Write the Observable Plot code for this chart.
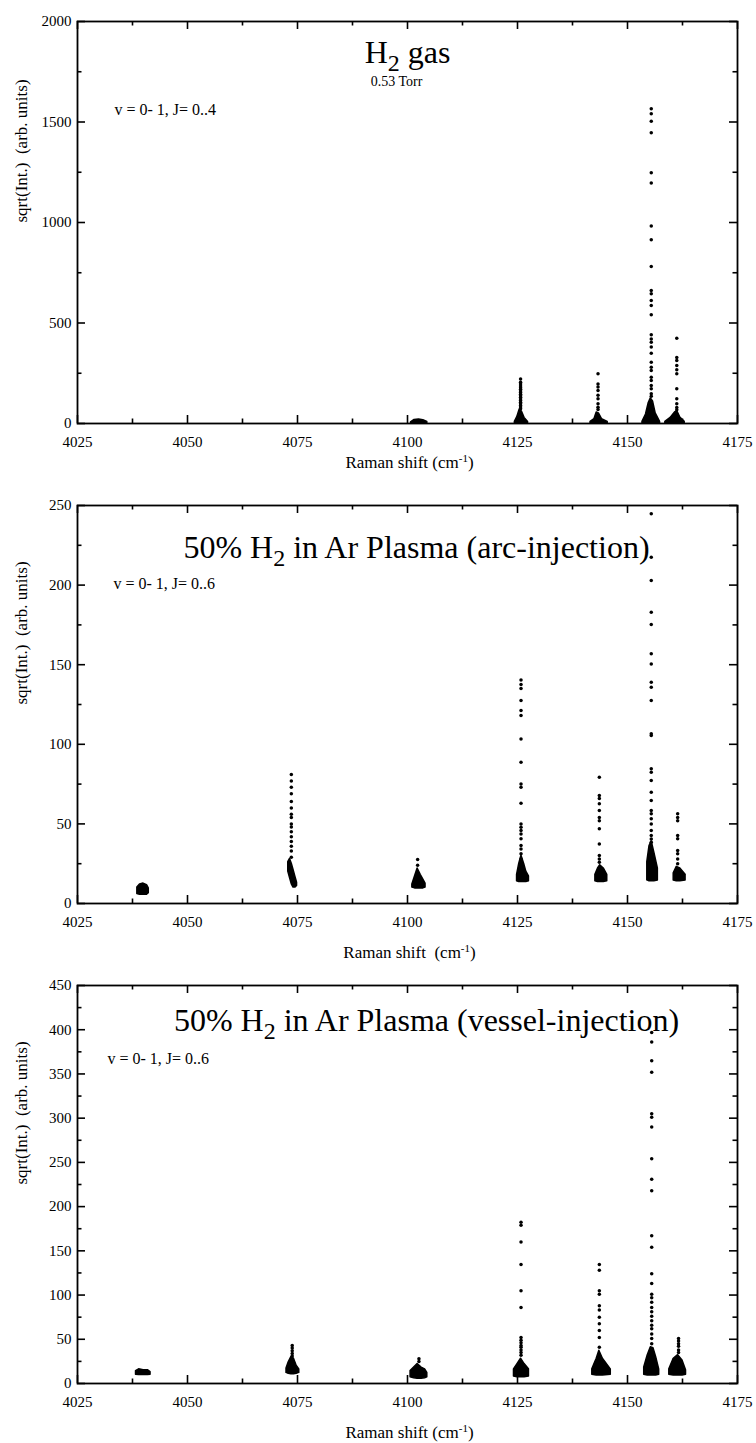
<!DOCTYPE html>
<html><head><meta charset="utf-8">
<script src="https://cdn.jsdelivr.net/npm/d3@7"></script>
<script src="https://cdn.jsdelivr.net/npm/@observablehq/plot@0.6"></script>
<style>
body{margin:0;background:#fff;}
#chart{width:756px;}
#chart svg{display:block;}
#chart text{white-space:pre;}
</style></head><body><div id="chart"></div>
<script>
// ---------- shared axis values ----------
const xDomain = [4025, 4175];
const xMajor = [4025, 4050, 4075, 4100, 4125, 4150, 4175];
const xMinor = [4037.5, 4062.5, 4087.5, 4112.5, 4137.5, 4162.5];
const yAxisTitle = "sqrt(Int.)\u00a0 (arb. units)";

// ---------- Panel 1: H2 gas ----------
const p1Title = "H2 gas";
const p1Pressure = "0.53 Torr";
const p1Note = "v = 0- 1, J= 0..4";
const p1XLabel = "Raman shift (cm-1)";
const p1YMajor = [0, 500, 1000, 1500, 2000];
const p1YMinor = [250, 750, 1250, 1750];
const p1SpikeX = [4125.7, 4143.3, 4155.4, 4161.2];
const p1SpikeY = [
  [222, 205, 196, 187, 178, 170, 162, 154, 146, 138, 130, 122, 114, 106, 98, 90, 82, 74],
  [247, 197, 181, 164, 140, 123, 98, 81, 70],
  [1566, 1541, 1504, 1446, 1247, 1196, 982, 914, 781, 662, 645, 612, 587, 541, 441, 421, 404, 380, 350, 305, 280, 264, 230, 214, 189, 173, 148, 135],
  [424, 328, 313, 289, 267, 247, 173, 123, 98, 80, 68]
];
const p1BlobX = [
  [4100.8, 4101.6, 4102.6, 4103.6, 4104.5],
  [4124.4, 4125.0, 4125.5, 4126.0, 4126.6, 4127.4],
  [4141.6, 4142.5, 4143.0, 4143.5, 4144.2, 4145.5],
  [4153.4, 4154.2, 4154.8, 4155.3, 4155.8, 4156.4, 4157.4],
  [4158.6, 4159.8, 4160.8, 4161.3, 4162.0, 4163.0]
];
const p1BlobLo = [
  [0, 0, 0, 0, 0],
  [0, 0, 0, 0, 0, 0],
  [0, 0, 0, 0, 0, 0],
  [0, 0, 0, 0, 0, 0, 0],
  [0, 0, 0, 0, 0, 0]
];
const p1BlobHi = [
  [6, 18, 20, 16, 8],
  [8, 35, 70, 60, 28, 8],
  [8, 22, 55, 50, 22, 8],
  [8, 45, 100, 125, 110, 50, 8],
  [8, 28, 55, 62, 30, 8]
];

// ---------- Panel 2: arc-injection ----------
const p2Title = "50% H2 in Ar Plasma (arc-injection)";
const p2Note = "v = 0- 1, J= 0..6";
const p2XLabel = "Raman shift\u00a0 (cm-1)";
const p2YMajor = [0, 50, 100, 150, 200, 250];
const p2YMinor = [25, 75, 125, 175, 225];
const p2SpikeX = [4073.6, 4102.3, 4125.8, 4143.6, 4155.4, 4161.4];
const p2SpikeY = [
  [81, 77, 73, 69, 64, 60, 56, 54, 50, 48, 45, 42, 39, 36, 33, 29],
  [27.6, 24],
  [140.4, 137.6, 135, 127.5, 121.2, 118.1, 103.4, 88.7, 75.1, 73, 62.9, 50, 47.9, 45.8, 43.7, 40.6, 36.4, 34.3, 31.2, 28],
  [79.3, 67.8, 66, 62.6, 58.4, 54, 52, 46.9, 37.4, 30.2, 28, 25.9],
  [244.8, 217.5, 202.9, 183, 175.3, 156.8, 150.5, 139, 135.8, 127.5, 106.6, 105.5, 84.6, 82.5, 77.3, 69.9, 64.7, 58.4, 56.3, 53.2, 50, 45.8, 42.7, 40.5, 38.5],
  [56.3, 54, 52, 42.7, 40.6, 33.3, 31.2, 28, 25]
];
const p2BlobX = [
  [4038.6, 4039.2, 4040.0, 4040.8, 4041.2],
  [4072.9, 4073.3, 4073.7, 4074.1, 4074.5, 4074.9],
  [4101.1, 4101.7, 4102.3, 4103.0, 4103.6, 4104.1],
  [4124.9, 4125.4, 4125.9, 4126.5, 4127.0, 4127.6],
  [4142.7, 4143.3, 4143.8, 4144.6, 4145.4],
  [4154.5, 4155.0, 4155.5, 4156.1, 4156.9],
  [4160.5, 4161.2, 4162.0, 4163.2]
];
const p2BlobLo = [
  [6, 5.5, 5.5, 5.5, 6.5],
  [20, 16, 12, 10, 10, 11],
  [10, 9.5, 9.5, 9.5, 9.5, 10],
  [14, 13.5, 13.5, 13.5, 13.5, 14],
  [14, 13.5, 13.5, 13.5, 14],
  [14.5, 14, 14, 14, 14.5],
  [14.5, 14, 14, 14.5]
];
const p2BlobHi = [
  [10, 12, 12.5, 11.5, 9.5],
  [26, 28, 25, 21, 17, 13],
  [12, 17, 22, 18, 15, 12.5],
  [18, 25, 30, 25, 20, 17],
  [18, 22, 24, 22, 18],
  [26, 36, 39, 32, 22],
  [19, 23, 22, 18]
];

// ---------- Panel 3: vessel-injection ----------
const p3Title = "50% H2 in Ar Plasma (vessel-injection)";
const p3Note = "v = 0- 1, J= 0..6";
const p3XLabel = "Raman shift (cm-1)";
const p3YMajor = [0, 50, 100, 150, 200, 250, 300, 350, 400, 450];
const p3YMinor = [25, 75, 125, 175, 225, 275, 325, 375, 425];
const p3SpikeX = [4073.8, 4102.6, 4125.8, 4143.6, 4155.5, 4161.6];
const p3SpikeY = [
  [43, 40, 37, 34, 31],
  [28, 25],
  [182.4, 179, 160, 134.5, 105, 86, 52, 49, 46, 43, 41, 38, 35, 32],
  [134.5, 128, 105, 101, 88, 83, 75, 67.5, 60, 52, 41],
  [397, 386, 365, 352, 305, 301, 290, 254, 231, 218, 167, 154, 124, 113, 101, 97, 92, 86, 81, 76, 71, 66, 62, 56, 51, 45],
  [51, 48, 45, 42, 38, 35]
];
const p3BlobX = [
  [4038.3, 4039.0, 4040.0, 4041.0, 4041.6],
  [4072.5, 4073.0, 4073.6, 4074.2, 4074.8, 4075.4],
  [4100.7, 4101.5, 4102.3, 4103.2, 4104.0, 4104.5],
  [4124.2, 4125.0, 4125.8, 4126.6, 4127.6],
  [4142.0, 4143.0, 4143.6, 4144.4, 4146.2],
  [4153.8, 4154.6, 4155.3, 4155.9, 4156.5, 4157.2],
  [4159.5, 4160.5, 4161.5, 4162.5, 4163.3]
];
const p3BlobLo = [
  [10, 9.5, 9.5, 9.5, 10],
  [12, 11, 10.5, 10.5, 11, 12],
  [7, 6, 5.5, 5.5, 6, 7],
  [8, 7, 7, 7, 8],
  [10, 9, 9, 9, 10],
  [10, 9, 9, 9, 9, 10],
  [10, 9, 9, 9, 10]
];
const p3BlobHi = [
  [14, 16, 15, 15, 13],
  [17, 24, 30, 28, 20, 16],
  [14, 18, 22, 18, 16, 12],
  [16, 22, 28, 22, 16],
  [16, 28, 37, 28, 16],
  [18, 32, 41, 40, 30, 16],
  [16, 28, 32, 26, 15]
];

const FONT = "'Liberation Serif', 'Times New Roman', serif";

function rich(svg, plain, parts) {
  d3.select(svg).selectAll("text")
    .filter(function () { return this.textContent === plain; })
    .each(function () {
      const t = d3.select(this);
      t.text(null);
      let shift = 0;
      for (const p of parts) {
        const s = p.shift || 0;
        const ts = t.append("tspan").text(p.t).attr("dy", s - shift);
        if (p.size) ts.attr("font-size", p.size);
        shift = s;
      }
    });
}

function panel(cfg) {
  const W = 756, mL = 77, mR = 19;
  const plotW = W - mL - mR;
  const plotH = cfg.height - cfg.mt - cfg.mb;
  const yMax = cfg.yMajor[cfg.yMajor.length - 1];
  const ux = (xDomain[1] - xDomain[0]) / plotW;  // data units per px
  const uy = yMax / plotH;
  const dots = cfg.spikeX.flatMap((x, i) => cfg.spikeY[i].map(y => ({x, y})));
  const blobs = cfg.blobX.flatMap((xs, i) => xs.map((x, j) => ({id: i, x, lo: cfg.blobLo[i][j], hi: cfg.blobHi[i][j]})));
  const tickW = 1.6;
  const marks = [
    Plot.ruleX(xMajor, {x: d => d, y1: 0, y2: 8 * uy, strokeWidth: tickW}),
    Plot.ruleX(xMinor, {x: d => d, y1: 0, y2: 4.5 * uy, strokeWidth: tickW}),
    Plot.ruleX(xMajor, {x: d => d, y1: yMax - 8 * uy, y2: yMax, strokeWidth: tickW}),
    Plot.ruleX(xMinor, {x: d => d, y1: yMax - 4.5 * uy, y2: yMax, strokeWidth: tickW}),
    Plot.ruleY(cfg.yMajor, {y: d => d, x1: xDomain[0], x2: xDomain[0] + 8 * ux, strokeWidth: tickW}),
    Plot.ruleY(cfg.yMinor, {y: d => d, x1: xDomain[0], x2: xDomain[0] + 4.5 * ux, strokeWidth: tickW}),
    Plot.ruleY(cfg.yMajor, {y: d => d, x1: xDomain[1] - 8 * ux, x2: xDomain[1], strokeWidth: tickW}),
    Plot.ruleY(cfg.yMinor, {y: d => d, x1: xDomain[1] - 4.5 * ux, x2: xDomain[1], strokeWidth: tickW}),
    Plot.areaY(blobs, {x: "x", y1: "lo", y2: "hi", z: "id", fill: "black", stroke: "black", strokeWidth: 1.5, curve: "linear"}),
    Plot.dot(dots, {x: "x", y: "y", r: 1.75, fill: "black"}),
    Plot.frame({strokeWidth: 1.8}),
    Plot.text([cfg.title], {frameAnchor: "top", dx: cfg.titleDx, dy: cfg.titleDy, lineAnchor: "bottom", fontSize: 32}),
    Plot.text([cfg.note], {frameAnchor: "top-left", textAnchor: "start", dx: cfg.noteDx, dy: cfg.noteDy, lineAnchor: "bottom", fontSize: 16}),
    Plot.text([cfg.xLabel], {frameAnchor: "bottom", dx: 2, dy: cfg.xLabDy, lineAnchor: "bottom", fontSize: 17}),
    Plot.text([yAxisTitle], {frameAnchor: "left", dx: -56, rotate: -90, lineAnchor: "middle", fontSize: 17})
  ];
  if (cfg.pressure) {
    marks.push(Plot.text([cfg.pressure], {frameAnchor: "top", dx: -11, dy: 64, lineAnchor: "bottom", fontSize: 14}));
  }
  const svg = Plot.plot({
    width: W, height: cfg.height,
    marginLeft: mL, marginRight: mR, marginTop: cfg.mt, marginBottom: cfg.mb,
    style: {fontFamily: FONT, fontSize: "15px", background: "white", color: "black"},
    x: {domain: xDomain, ticks: xMajor, tickSize: 0, tickPadding: 13, tickFormat: d => String(d), label: null},
    y: {domain: [0, yMax], ticks: cfg.yMajor, tickSize: 0, tickPadding: 6, tickFormat: d => String(d), label: null},
    marks
  });
  const h2 = cfg.title.indexOf("H2");
  rich(svg, cfg.title, [
    {t: cfg.title.slice(0, h2 + 1)},
    {t: "2", shift: 8, size: 24},
    {t: cfg.title.slice(h2 + 2)}
  ]);
  const ci = cfg.xLabel.indexOf("cm-1");
  rich(svg, cfg.xLabel, [
    {t: cfg.xLabel.slice(0, ci + 2)},
    {t: "-1", shift: -6, size: 11},
    {t: ")"}
  ]);
  return svg;
}

const root = document.getElementById("chart");
root.append(panel({
  height: 482, mt: 21, mb: 59,
  yMajor: p1YMajor, yMinor: p1YMinor,
  spikeX: p1SpikeX, spikeY: p1SpikeY, blobX: p1BlobX, blobLo: p1BlobLo, blobHi: p1BlobHi,
  title: p1Title, titleDx: 0, titleDy: 41, pressure: p1Pressure,
  note: p1Note, noteDx: 37, noteDy: 93, xLabel: p1XLabel, xLabDy: 44
}));
root.append(panel({
  height: 482, mt: 23, mb: 61,
  yMajor: p2YMajor, yMinor: p2YMinor,
  spikeX: p2SpikeX, spikeY: p2SpikeY, blobX: p2BlobX, blobLo: p2BlobLo, blobHi: p2BlobHi,
  title: p2Title, titleDx: 9, titleDy: 52,
  note: p2Note, noteDx: 36, noteDy: 83, xLabel: p2XLabel, xLabDy: 54
}));
root.append(panel({
  height: 479, mt: 21, mb: 60,
  yMajor: p3YMajor, yMinor: p3YMinor,
  spikeX: p3SpikeX, spikeY: p3SpikeY, blobX: p3BlobX, blobLo: p3BlobLo, blobHi: p3BlobHi,
  title: p3Title, titleDx: 19, titleDy: 45,
  note: p3Note, noteDx: 30, noteDy: 78, xLabel: p3XLabel, xLabDy: 54
}));
</script></body></html>
